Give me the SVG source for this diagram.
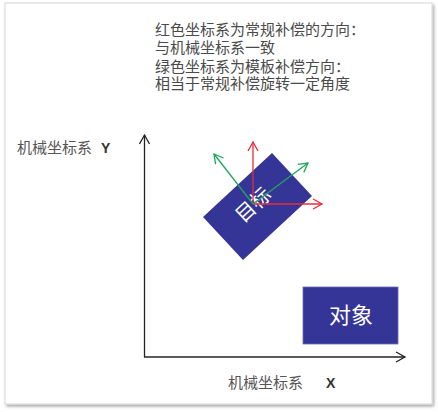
<svg xmlns="http://www.w3.org/2000/svg" width="438" height="412" viewBox="0 0 438 412">
<defs>
<marker id="openK" markerWidth="12" markerHeight="12" refX="10" refY="6" orient="auto" markerUnits="userSpaceOnUse"><path d="M1,1 L10,6 L1,11" fill="none" stroke="#222" stroke-width="1.3"/></marker>
<marker id="openR" markerWidth="12" markerHeight="12" refX="10" refY="6" orient="auto" markerUnits="userSpaceOnUse"><path d="M1,1 L10,6 L1,11" fill="none" stroke="#ee2a3a" stroke-width="1.3"/></marker>
<marker id="openG" markerWidth="12" markerHeight="12" refX="10" refY="6" orient="auto" markerUnits="userSpaceOnUse"><path d="M1,1 L10,6 L1,11" fill="none" stroke="#1fa65a" stroke-width="1.3"/></marker>
<filter id="sh" x="-5%" y="-5%" width="110%" height="110%"><feDropShadow dx="1.5" dy="2" stdDeviation="1.5" flood-color="#000" flood-opacity="0.35"/></filter>
</defs>
<style>
.t{font-family:"Liberation Serif","Noto Sans CJK SC",serif;font-size:15px;fill:#4a4a4a}
.lbl{font-family:"Liberation Serif","Noto Sans CJK SC",serif;font-size:15px;fill:#555}
.ax{font-family:"Liberation Sans","Noto Sans CJK SC",sans-serif;font-size:14px;font-weight:bold;fill:#333}
.box{fill:#353597}
.wt{font-family:"Noto Sans CJK SC",sans-serif;fill:#fff}
</style>
<rect x="5" y="3" width="427" height="401" fill="#fff" stroke="#d8d8d8" stroke-width="1" filter="url(#sh)"/>
<g id="caption">
<text class="t" x="155" y="35">红色坐标系为常规补偿的方向：</text>
<text class="t" x="155" y="53">与机械坐标系一致</text>
<text class="t" x="155" y="72">绿色坐标系为模板补偿方向：</text>
<text class="t" x="155" y="89">相当于常规补偿旋转一定角度</text>
</g>
<g id="ylabel"><text class="lbl" x="17" y="153">机械坐标系</text><text class="ax" x="101" y="153">Y</text></g>
<g id="xlabel"><text class="lbl" x="228" y="388">机械坐标系</text><text class="ax" x="326" y="388">X</text></g>
<g id="target">
<polygon class="box" points="272,153 312,196 243,260 203,217"/>
<text class="wt" font-size="20" transform="translate(258,210) rotate(-43)" text-anchor="middle">目标</text>
</g>
<g id="object">
<rect class="box" x="303" y="287" width="95" height="57" stroke="#6a6ac0" stroke-width="0.8"/>
<text class="wt" font-size="22" x="351" y="323" text-anchor="middle">对象</text>
</g>
<g id="connectors" fill="none" stroke-width="1.3">
<path d="M144.5,357 L144.5,135" stroke="#222" marker-end="url(#openK)"/>
<path d="M144,357 L405,357" stroke="#222" marker-end="url(#openK)"/>
<path d="M253,204 L253,142" stroke="#ee2a3a" marker-end="url(#openR)"/>
<path d="M253,204 L322,204" stroke="#ee2a3a" marker-end="url(#openR)"/>
<path d="M253,204 L214,154" stroke="#1fa65a" marker-end="url(#openG)"/>
<path d="M253,204 L308,163" stroke="#1fa65a" marker-end="url(#openG)"/>
</g>
</svg>
